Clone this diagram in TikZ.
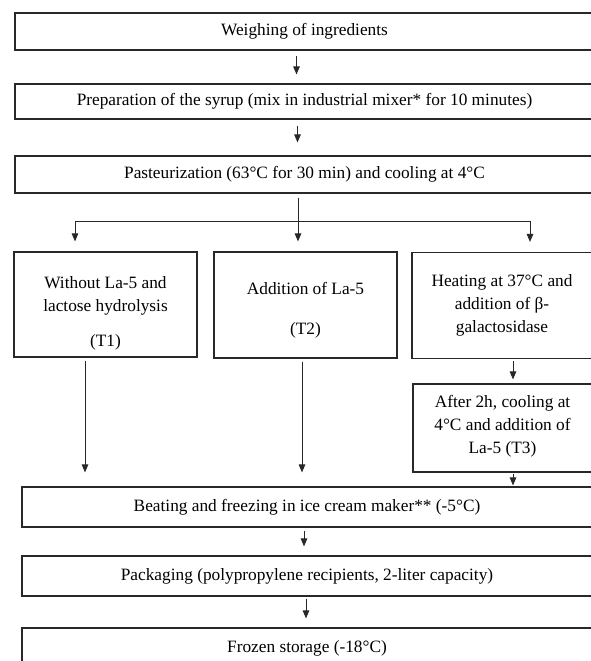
\documentclass[tikz,border=0pt]{standalone}
\usepackage{fontspec}
\setmainfont{Liberation Serif}
\usetikzlibrary{arrows.meta,positioning,calc}
\definecolor{framegray}{RGB}{40,40,40}

\begin{document}
\begin{tikzpicture}[
    x=1pt, y=-1pt,
    box/.style={rectangle, draw=framegray, line width=1.1pt, inner sep=0pt},
    wide/.style={box, minimum width=579pt, minimum height=37pt},
    txt/.style={align=center, font=\fontsize{17.3}{23}\selectfont, inner sep=0pt},
    arrow/.style={-{Triangle[length=8pt,width=6.5pt]}, line width=0.9pt, framegray},
    line/.style={line width=0.9pt, framegray}
]
\clip (0,0) rectangle (591,661);

% Preparation steps
\node[wide, txt] (weigh) at (304.5,31.5) {Weighing of ingredients};
\node[wide, txt, minimum height=35pt] (prep) at (304.5,101.5) {Preparation of the syrup (mix in industrial mixer* for 10 minutes)};
\node[wide, txt] (past) at (304.5,174.5) {Pasteurization (63°C for 30 min) and cooling at 4°C};

% Treatments
\node[box, minimum width=183pt, minimum height=105pt] (tone) at (105.5,304.5) {};
\node[txt] (tonetxt) at (105.5,313) {Without La-5 and\\lactose hydrolysis\\[12pt](T1)};
\node[box, minimum width=183pt, minimum height=106pt] (ttwo) at (305.5,305) {};
\node[txt] (ttwotxt) at (305.5,310) {Addition of La-5\\[17pt](T2)};
\node[box, minimum width=184pt, minimum height=106pt] (heat) at (504,305.5) {};
\node[txt] (heattxt) at (502,305.5) {Heating at 37°C and\\addition of β-\\galactosidase};
\node[box, minimum width=183pt, minimum height=88pt] (after) at (504.5,428) {};
\node[txt] (aftertxt) at (502.5,426.5) {After 2h, cooling at\\4°C and addition of\\La-5 (T3)};

% Final steps
\node[box, txt, minimum width=570pt, minimum height=40pt] (beat) at (307,507) {Beating and freezing in ice cream maker** (-5°C)};
\node[box, txt, minimum width=570pt, minimum height=40pt] (pack) at (307,576) {Packaging (polypropylene recipients, 2-liter capacity)};
\node[box, txt, minimum width=570pt, minimum height=40pt] (froz) at (307,648) {Frozen storage (-18°C)};

% Arrows
\draw[arrow, shorten <=5pt, shorten >=9pt] ([xshift=-8pt]weigh.south) -- ([xshift=-8pt]prep.north);
\draw[arrow, shorten <=6pt, shorten >=13pt] ([xshift=-7pt]prep.south) -- ([xshift=-7pt]past.north);

% Split into treatments
\coordinate (split) at (298,221);
\coordinate (splitL) at (75,221);
\coordinate (splitR) at (530,221);
\draw[line, shorten <=4pt] (past.south -| split) -- (split);
\draw[arrow, shorten >=10pt] (split) -| (splitL |- tone.north);
\draw[arrow, shorten >=10pt] (split) -- (split |- ttwo.north);
\draw[arrow, shorten >=10pt] (split) -| (splitR |- heat.north);

\draw[arrow, shorten <=3pt, shorten >=14pt] ([xshift=-20.5pt]tone.south) -- ([xshift=-20.5pt]tone.south |- beat.north);
\draw[arrow, shorten <=3pt, shorten >=14pt] ([xshift=-3.5pt]ttwo.south) -- ([xshift=-3.5pt]ttwo.south |- beat.north);
\draw[arrow, shorten <=2pt, shorten >=4pt] ([xshift=9pt]heat.south) -- ([xshift=9pt]heat.south |- after.north);
\draw[arrow, shorten <=1pt, shorten >=1pt] ([xshift=8.5pt]after.south) -- ([xshift=8.5pt]after.south |- beat.north);

\draw[arrow, shorten <=3pt, shorten >=9pt] ([xshift=-3pt]beat.south) -- ([xshift=-3pt]pack.north);
\draw[arrow, shorten <=2pt, shorten >=9pt] ([xshift=-1pt]pack.south) -- ([xshift=-1pt]froz.north);

\end{tikzpicture}
\end{document}
